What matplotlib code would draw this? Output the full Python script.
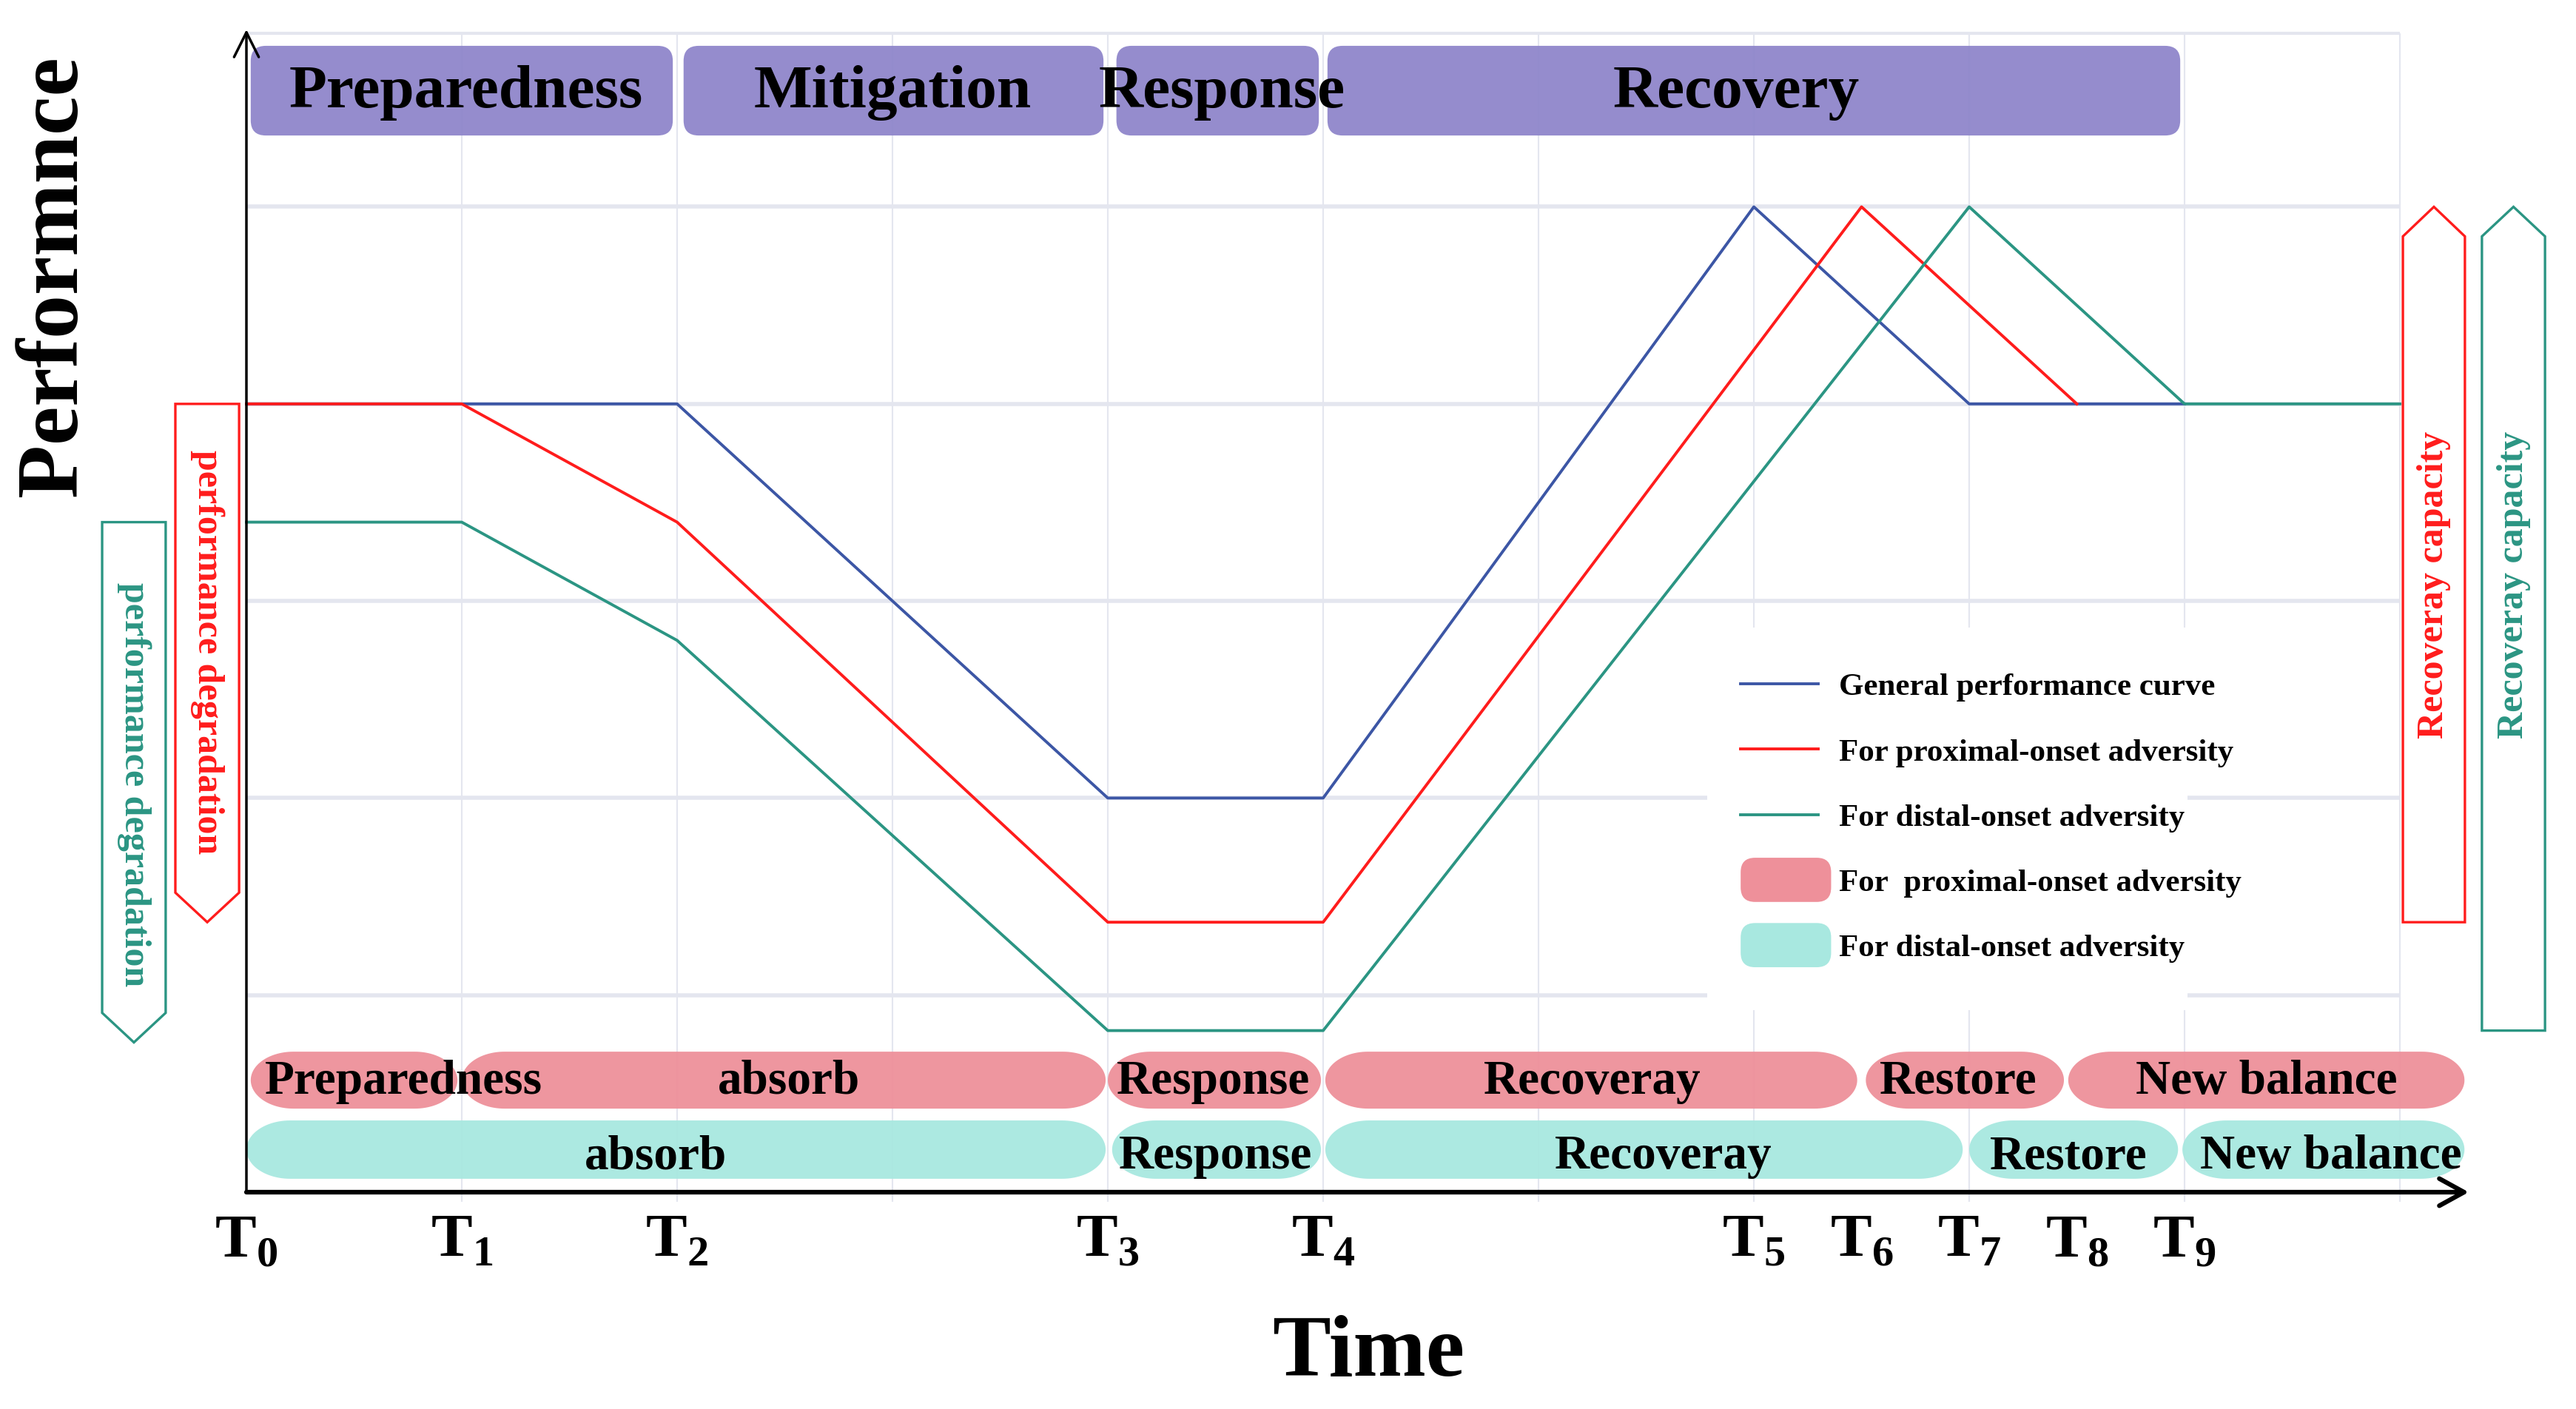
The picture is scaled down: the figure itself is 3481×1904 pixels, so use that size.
import numpy as np
import matplotlib
matplotlib.use('Agg')
import matplotlib.pyplot as plt
from matplotlib.patches import FancyBboxPatch, Polygon, FancyArrowPatch, Patch, Rectangle
from matplotlib.lines import Line2D
from matplotlib.legend_handler import HandlerPatch

plt.rcParams['font.family'] = ['Liberation Serif', 'DejaVu Serif']
plt.rcParams['font.weight'] = 'bold'
plt.rcParams['mathtext.fontset'] = 'custom'
plt.rcParams['mathtext.rm'] = 'Liberation Serif:bold'
plt.rcParams['mathtext.bf'] = 'Liberation Serif:bold'

# time marks on the x axis
t_points = [0, 1, 2, 4, 5, 7, 7.5, 8, 8.5, 9]
t_labels = [r'$\mathbf{T}_{\mathbf{%d}}$' % i for i in range(10)]

# performance curves
blue_x = [0, 2, 4, 5, 7, 8, 9]
blue_y = [4, 4, 2, 2, 5, 4, 4]
red_x = [0, 1, 2, 4, 5, 7.5, 8.5]
red_y = [4, 4, 3.4, 1.37, 1.37, 5, 4]
green_x = [0, 1, 2, 4, 5, 8, 9, 10]
green_y = [3.4, 3.4, 2.8, 0.82, 0.82, 5, 4, 4]

# phase bars (start, end, label position)
top_names = ['Preparedness', 'Mitigation', 'Response', 'Recovery']
top_start = [0.02, 2.03, 4.04, 5.02]
top_end = [1.98, 3.98, 4.98, 8.98]
top_text_x = [1.02, 3.0, 4.53, 6.92]

prox_names = ['Preparedness', 'absorb', 'Response', 'Recoveray', 'Restore', 'New balance']
prox_start = [0.02, 1.0, 4.0, 5.01, 7.52, 8.46]
prox_end = [0.98, 3.99, 4.99, 7.48, 8.44, 10.3]
prox_text_x = [0.73, 2.52, 4.49, 6.25, 7.95, 9.38]

dist_names = ['absorb', 'Response', 'Recoveray', 'Restore', 'New balance']
dist_start = [0.0, 4.02, 5.01, 8.0, 8.99]
dist_end = [3.99, 4.99, 7.97, 8.97, 10.3]
dist_text_x = [1.9, 4.5, 6.58, 8.46, 9.68]

BLUE = '#3c56a5'
RED = '#ff1c1c'
GREEN = '#2b9583'
PURPLE = '#8f86cb'
PINK = '#ee909a'
CYAN = '#a8e8e0'
GRID = '#e4e6ef'

W, H = 3481, 1904
X0, UX = 333, 291.0     # pixel of x=0, pixels per unit
Y0, UY = 1611, 266.3    # pixel of y=0, pixels per unit
ASPECT = UX / UY
y_top = 5.88

fig = plt.figure(figsize=(W / 100, H / 100), dpi=100)
ax = fig.add_axes([0, 0, 1, 1])
ax.set_xlim(-X0 / UX, (W - X0) / UX)
ax.set_ylim(-(H - Y0) / UY, Y0 / UY)
ax.axis('off')

# grid
ax.hlines([1, 2, 3, 4, 5], 0, 10, color=GRID, lw=4, zorder=0.5)
ax.hlines(y_top, 0, 10, color=GRID, lw=3, zorder=0.5)
ax.vlines(np.arange(1, 11), -0.05, y_top, color=GRID, lw=1.5, zorder=0.5)

# axes with arrows
ax.add_patch(FancyArrowPatch((0, 0), (0, y_top + 0.02), arrowstyle='->,head_length=0.4,head_width=0.2',
                             mutation_scale=60, lw=2.5, color='black', shrinkA=0, shrinkB=0, zorder=4))
ax.add_patch(FancyArrowPatch((0, 0), (10.32, 0), arrowstyle='->,head_length=0.4,head_width=0.22',
                             mutation_scale=60, lw=4.5, color='black', shrinkA=0, shrinkB=0, zorder=4))


def box(x0, x1, y0, y1, color):
    h = y1 - y0
    r = 0.07
    p = FancyBboxPatch((x0, y0), x1 - x0, h, boxstyle='round,pad=0,rounding_size=%f' % r,
                       mutation_aspect=ASPECT, facecolor=color, edgecolor='none', alpha=0.95, zorder=1)
    ax.add_patch(p)


def pill(x0, x1, y0, y1, color):
    ry = (y1 - y0) / 2
    yc = (y0 + y1) / 2
    # elliptic ends, in pixels about 1.5 times the half height, limited by the bar length
    rx_px = min(1.5 * ry * UY, 0.22 * (x1 - x0) * UX)
    rx = rx_px / UX
    th = np.linspace(-np.pi / 2, np.pi / 2, 50)
    right = np.column_stack([x1 - rx + rx * np.cos(th), yc + ry * np.sin(th)])
    th2 = np.linspace(np.pi / 2, 3 * np.pi / 2, 50)
    left = np.column_stack([x0 + rx + rx * np.cos(th2), yc + ry * np.sin(th2)])
    ax.add_patch(Polygon(np.vstack([right, left]), closed=True, facecolor=color,
                         edgecolor='none', alpha=0.95, zorder=1))


# top phase bars
for s, e, name, tx in zip(top_start, top_end, top_names, top_text_x):
    box(s, e, 5.362, 5.817, PURPLE)
    ax.text(tx, 5.505, name, fontsize=60, fontweight='bold', ha='center', va='baseline', zorder=3)

for s, e, name, tx in zip(prox_start, prox_end, prox_names, prox_text_x):
    pill(s, e, 0.424, 0.713, PINK)
    ax.text(tx, 0.50, name, fontsize=47, fontweight='bold', ha='center', va='baseline', zorder=3)

for s, e, name, tx in zip(dist_start, dist_end, dist_names, dist_text_x):
    pill(s, e, 0.068, 0.364, CYAN)
    ax.text(tx, 0.12, name, fontsize=47, fontweight='bold', ha='center', va='baseline', zorder=3)

# curves
ax.plot(blue_x, blue_y, color=BLUE, lw=2.8, zorder=2)
ax.plot(red_x, red_y, color=RED, lw=2.8, zorder=2.1)
ax.plot(green_x, green_y, color=GREEN, lw=2.8, zorder=2.2)


def side_arrow(x0, x1, start, tip, color, text, text_y, rot):
    hh = 0.15 if tip > start else -0.15
    xm = (x0 + x1) / 2
    pts = [(x0, start), (x1, start), (x1, tip - hh), (xm, tip), (x0, tip - hh)]
    ax.add_patch(Polygon(pts, closed=True, fill=False, edgecolor=color, lw=2.4, zorder=3))
    ax.text(xm, text_y, text, color=color, fontsize=36, fontweight='bold', rotation=rot,
            ha='center', va='center', zorder=3)


side_arrow(-0.330, -0.034, red_y[0], min(red_y), RED, 'performance degradation', 2.74, 270)
side_arrow(-0.670, -0.375, green_y[0], min(green_y) - 0.06, GREEN, 'performance degradation', 2.07, 270)
side_arrow(10.014, 10.302, min(red_y), max(red_y), RED, 'Recoveray capacity', 3.08, 90)
side_arrow(10.381, 10.674, min(green_y), max(green_y), GREEN, 'Recoveray capacity', 3.08, 90)

# tick labels
for t, lab in zip(t_points, t_labels):
    ax.text(t, -0.11, lab, fontsize=60, ha='center', va='top', zorder=3)

ax.text(5.21, -0.93, 'Time', fontsize=85, fontweight='bold', ha='center', va='baseline')
ax.text(-0.887, 4.65, 'Performnce', fontsize=85, fontweight='bold', rotation=90, ha='center', va='center')

# white area behind the legend (hides the grid there)
ax.add_patch(Rectangle((6.784, 0.924), 9.014 - 6.784, 2.865 - 0.924, facecolor='white',
                       edgecolor='none', zorder=1.5))


# legend
def pill_handle(legend, orig_handle, xdescent, ydescent, width, height, fontsize):
    w, h = 88, 43
    return FancyBboxPatch((-xdescent, -ydescent + height / 2 - h / 2), w, h,
                          boxstyle='round,pad=0,rounding_size=14')


handles = [Line2D([], [], color=BLUE, lw=2.8),
           Line2D([], [], color=RED, lw=2.8),
           Line2D([], [], color=GREEN, lw=2.8),
           Patch(facecolor=PINK, edgecolor='none'),
           Patch(facecolor=CYAN, edgecolor='none')]
labels = ['General performance curve', 'For proximal-onset adversity', 'For distal-onset adversity',
          'For  proximal-onset adversity', 'For distal-onset adversity']
leg = ax.legend(handles, labels, loc='upper left', bbox_to_anchor=(2307 / W, 1 - 864 / H),
                bbox_transform=fig.transFigure, prop={'size': 31, 'weight': 'bold'},
                handlelength=2.44, handletextpad=0.65, labelspacing=1.14, borderpad=1.05,
                borderaxespad=0, frameon=False,
                handler_map={Patch: HandlerPatch(patch_func=pill_handle)})

fig.savefig('out.png', dpi=100, facecolor='white')
